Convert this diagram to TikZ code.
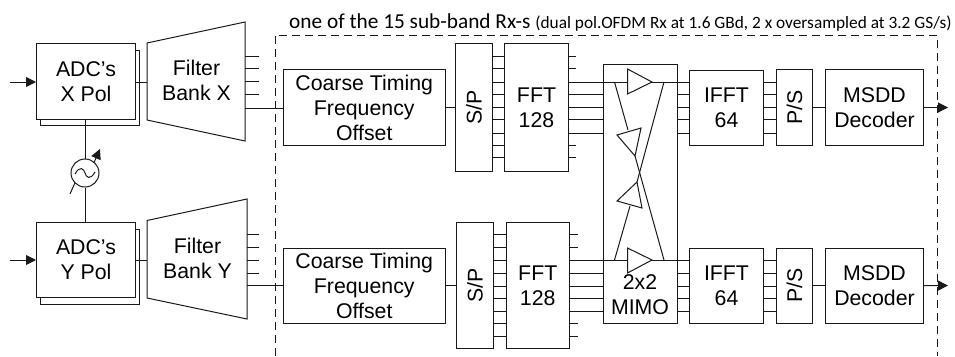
\documentclass[tikz,border=0pt]{standalone}
\usepackage{fontspec}
\setmainfont{Liberation Sans}
\newfontfamily\capfont{Carlito}
\usetikzlibrary{arrows.meta,calc}
\tikzset{
  wire/.style={line width=1pt,draw=black!90},
  lab/.style={inner sep=0pt,align=center,font=\fontsize{21.3}{25}\selectfont},
  box/.style={wire,draw,fill=white,lab},
  tip/.style={-{Triangle[length=10pt,width=10pt]}},
}
\newcommand{\bx}[5]{% name, x1,y1,x2,y2 + text follows as node content
  \node[box,minimum width={(#4-#2)*1pt},minimum height={(#5-#3)*1pt},anchor=north west] (#1) at (#2,#3)}
\begin{document}
\begin{tikzpicture}[x=1pt,y=-1pt]
\useasboundingbox (0,0) rectangle (955,356);
% dashed frame
\coordinate (fa) at (275,356);\coordinate (fb) at (275,35);\coordinate (fc) at (937,35);\coordinate (fd) at (937,356);
\draw[wire,dash pattern=on 8pt off 5pt] (fa) -- (fb) -- (fc) -- (fd);
\node[anchor=base west,inner sep=0pt,font=\capfont\fontsize{21.3}{24}\selectfont] (cap) at (289,28) {one of the 15 sub-band Rx-s {\fontsize{17.3}{20}\selectfont (dual pol.OFDM Rx at 1.6 GBd, 2 x oversampled at 3.2 GS/s)}};
% ADCs
\foreach \n/\y in {a/50,b/229}{\node[box,minimum width=99pt,minimum height=75pt,anchor=north west] (back\n) at (40,\y) {};}
\bx{adcx}{36}{43}{135}{119} {ADC’s\\X Pol};
\bx{adcy}{36}{222}{135}{297} {ADC’s\\Y Pol};
\coordinate (inx) at (10,82);\coordinate (iny) at (10,260);
\draw[wire,tip] (inx) -- (adcx.west |- inx);
\draw[wire,tip] (iny) -- (adcy.west |- iny);
% filter banks
\coordinate (fx1) at (147,43);\coordinate (fx2) at (245,22);\coordinate (fx3) at (245,141);\coordinate (fx4) at (147,120);
\coordinate (fy1) at (147,220.5);\coordinate (fy2) at (247,199);\coordinate (fy3) at (247,319);\coordinate (fy4) at (147,298);
\draw[wire] (fx1) -- (fx2) -- (fx3) -- (fx4) -- cycle;
\draw[wire] (fy1) -- (fy2) -- (fy3) -- (fy4) -- cycle;
\node[lab] (fxl) at (196.5,80) {Filter\\Bank X};
\node[lab] (fyl) at (197.5,258) {Filter\\Bank Y};
\draw[wire] (adcx.east |- inx) -- (fx1 |- inx);
\draw[wire] (adcy.east |- iny) -- (fy1 |- iny);
\foreach \y in {56,68,81,94}{\draw[wire] (245,\y) -- ++(14,0);}
\foreach \y in {234,247,260,273}{\draw[wire] (247,\y) -- ++(12,0);}
% coarse
\bx{cox}{283}{69}{444.5}{145} {Coarse Timing\\Frequency\\Offset};
\bx{coy}{283}{247.5}{444.5}{323} {Coarse Timing\\Frequency\\Offset};
\draw[wire] (fx2 |- 0,108) -- (cox.west |- 0,108);
\draw[wire] (fy2 |- 0,285.5) -- (coy.west |- 0,285.5);
% S/P, FFT
\bx{spx}{455}{43}{492}{171} {\rotatebox{90}{S/P}};
\bx{spy}{456}{222}{493}{348} {\rotatebox{90}{S/P}};
\bx{fftx}{504}{43}{568}{171} {FFT\\128};
\bx{ffty}{505.5}{222}{569}{348} {FFT\\128};
\draw[wire] (cox.east |- spx) -- (spx.west);
\draw[wire] (coy.east |- spy) -- (spy.west);
\foreach \y in {56,68.7,82,94,107,119,133,145,157}{\draw[wire] (spx.east |- 0,\y) -- (fftx.west |- 0,\y);}
\foreach \y in {234,247,260,273,286,298,311,323,336}{\draw[wire] (spy.east |- 0,\y) -- (ffty.west |- 0,\y);}
\foreach \y in {56,68.7,145,157}{\draw[wire] (fftx.east |- 0,\y) -- ++(7,0);}
\foreach \y in {234,247,323,336}{\draw[wire] (ffty.east |- 0,\y) -- ++(8,0);}
% MIMO
\node[box,minimum width=74pt,minimum height=259pt,anchor=north west] (mimo) at (603,64) {};
\foreach \y in {82,94,107,119,133}{\draw[wire] (fftx.east |- 0,\y) -- (mimo.west |- 0,\y);}
\foreach \y in {260,273,286,298,311}{\draw[wire] (ffty.east |- 0,\y) -- (mimo.west |- 0,\y);}
\draw[wire] (mimo.west |- 0,82) -- (mimo.east |- 0,82);
\draw[wire] (mimo.west |- 0,260) -- (mimo.east |- 0,260);
\coordinate (tl) at (614.5,82);\coordinate (tr) at (664,82);\coordinate (bl) at (614.5,260);\coordinate (br) at (664,260);
\draw[wire] (tl) -- (628,130);
\draw[wire] (635,156) -- (br);
\draw[wire] (tr) -- (637,182);
\draw[wire] (630,206) -- (bl);
\foreach \p in {{(627.5,69)--(627.5,94)--(652,82)},{(627.5,248)--(627.5,273)--(652,260)},{(617,135)--(641,128)--(635,156)},{(617,201)--(637,182)--(642,208)}}{
  \draw[wire,fill=white] \p -- cycle;}
\node[lab] (mimol) at (640,295) {2x2\\MIMO};
% IFFT etc
\bx{ifx}{689}{70}{763}{145} {IFFT\\64};
\bx{ify}{689}{248}{763}{323} {IFFT\\64};
\bx{psx}{776}{69}{812}{145} {\rotatebox{90}{P/S}};
\bx{psy}{776}{247.5}{812}{323} {\rotatebox{90}{P/S}};
\bx{msx}{825}{69}{923}{145} {MSDD\\Decoder};
\bx{msy}{825}{247.5}{923}{323} {MSDD\\Decoder};
\foreach \y in {82,94,107,119,133}{
  \draw[wire] (mimo.east |- 0,\y) -- (ifx.west |- 0,\y);
  \draw[wire] (ifx.east |- 0,\y) -- (psx.west |- 0,\y);}
\foreach \y in {260,273,286,298,311}{
  \draw[wire] (mimo.east |- 0,\y) -- (ify.west |- 0,\y);
  \draw[wire] (ify.east |- 0,\y) -- (psy.west |- 0,\y);}
\draw[wire] (psx.east) -- (msx.west);
\draw[wire] (psy.east) -- (msy.west);
\coordinate (outx) at (948,107.5);\coordinate (outy) at (948,285.5);
\draw[wire,tip] (msx.east) -- (outx);
\draw[wire,tip] (msy.east) -- (outy);
% oscillator
\node[wire,draw,circle,minimum size=28pt,inner sep=0pt] (osc) at (85,173) {};
\draw[wire] (adcx.south -| osc) -- (osc.north);
\draw[wire] (osc.south) -- (adcy.north -| osc);
\draw[wire] ($(osc.center)+(-10,1)$) .. controls ($(osc.center)+(-5,-8)$) and ($(osc.center)+(-1,-4)$) .. (osc.center) .. controls ($(osc.center)+(1,4)$) and ($(osc.center)+(5,8)$) .. ($(osc.center)+(10,-1)$);
\draw[wire,tip] (osc.50) -- (100,149);
\coordinate (osct) at (70,194);
\draw[wire] (osct) -- (osc.225);
\end{tikzpicture}
\end{document}
